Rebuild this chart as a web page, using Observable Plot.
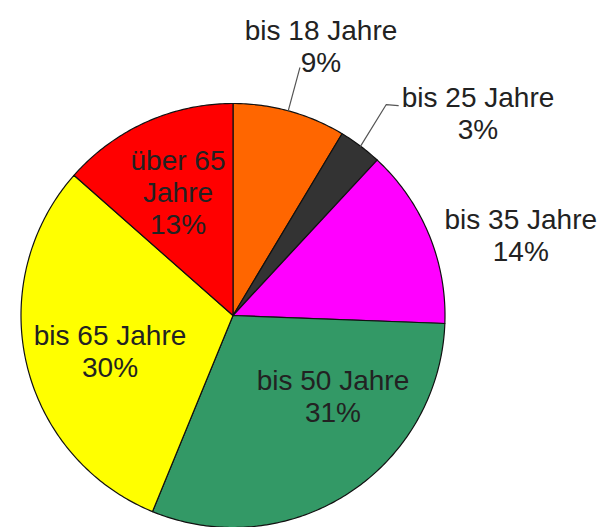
<!DOCTYPE html>
<html>
<head>
<meta charset="utf-8">
<script src="https://cdn.jsdelivr.net/npm/d3@7"></script>
<script src="https://cdn.jsdelivr.net/npm/@observablehq/plot@0.6"></script>
<style>
  html, body { margin: 0; padding: 0; background: #fff; }
  #chart svg { display: block; }
</style>
</head>
<body>
<div id="chart"></div>
<script>
// ---- data ----
const categories = ["bis 18 Jahre", "bis 25 Jahre", "bis 35 Jahre", "bis 50 Jahre", "bis 65 Jahre", "über 65 Jahre"];
// slice sizes (percent)
const shares = [8.6, 3.3, 13.7, 30.6, 30.3, 13.5];
const sliceColors = ["#ff6600", "#333333", "#ff00ff", "#339966", "#ffff00", "#ff0000"];
const labelTexts = ["bis 18 Jahre\n9%", "bis 25 Jahre\n3%", "bis 35 Jahre\n14%", "bis 50 Jahre\n31%", "bis 65 Jahre\n30%", "über 65\nJahre\n13%"];

// ---- layout ----
const W = 612, H = 527;
const cx = 232.5, cy = 315, R = 212;
// label placement: polar (degrees clockwise from top, radius factor)
const labelPolar = [[18.05, 1.34], [50.4, 1.50], [74.3, 1.41], [128.7, 0.604], [254.1, 0.603], [336.1, 0.64]];
// leader lines (polar points)
const leaders = [
  {id: "bis 18 Jahre", pts: [[15.1, 1.0], [15.1, 1.21]]},
  {id: "bis 25 Jahre", pts: [[37.0, 1.0], [36.0, 1.23], [38.2, 1.26]]}
];

const pol = (deg, f) => {
  const a = deg * Math.PI / 180;
  return [cx + R * f * Math.sin(a), cy - R * f * Math.cos(a)];
};

const pie = d3.pie().sort(null).value(d => d)(shares);
const slicePts = [];
pie.forEach((p, i) => {
  slicePts.push({cat: categories[i], color: sliceColors[i], x: cx, y: cy});
  const n = Math.max(4, Math.ceil((p.endAngle - p.startAngle) * 80));
  for (let k = 0; k <= n; k++) {
    const a = p.startAngle + (p.endAngle - p.startAngle) * k / n;
    slicePts.push({cat: categories[i], color: sliceColors[i], x: cx + R * Math.sin(a), y: cy - R * Math.cos(a)});
  }
});

const labelData = categories.map((c, i) => {
  const [x, y] = pol(labelPolar[i][0], labelPolar[i][1]);
  return {cat: c, text: labelTexts[i], x, y};
});

const leaderPts = [];
leaders.forEach(l => l.pts.forEach(([d, f]) => {
  const [x, y] = pol(d, f);
  leaderPts.push({id: l.id, x, y});
}));

const chart = Plot.plot({
  width: W,
  height: H,
  margin: 0,
  x: {domain: [0, W], range: [0, W], axis: null},
  y: {domain: [0, H], range: [0, H], axis: null},
  color: {type: "identity"},
  style: {fontFamily: "'Liberation Sans', Arial, Helvetica, sans-serif", background: "#fff"},
  marks: [
    Plot.line(slicePts, {x: "x", y: "y", z: "cat", fill: "color", stroke: "#111", strokeWidth: 1.2, curve: "linear-closed", strokeLinejoin: "round"}),
    Plot.line(leaderPts, {x: "x", y: "y", z: "id", stroke: "#555", strokeWidth: 1.2}),
    Plot.text(labelData, {x: "x", y: "y", text: "text", fontSize: 28, lineHeight: 1.143, fill: "#222", textAnchor: "middle"})
  ]
});
document.getElementById("chart").appendChild(chart);
</script>
</body>
</html>
